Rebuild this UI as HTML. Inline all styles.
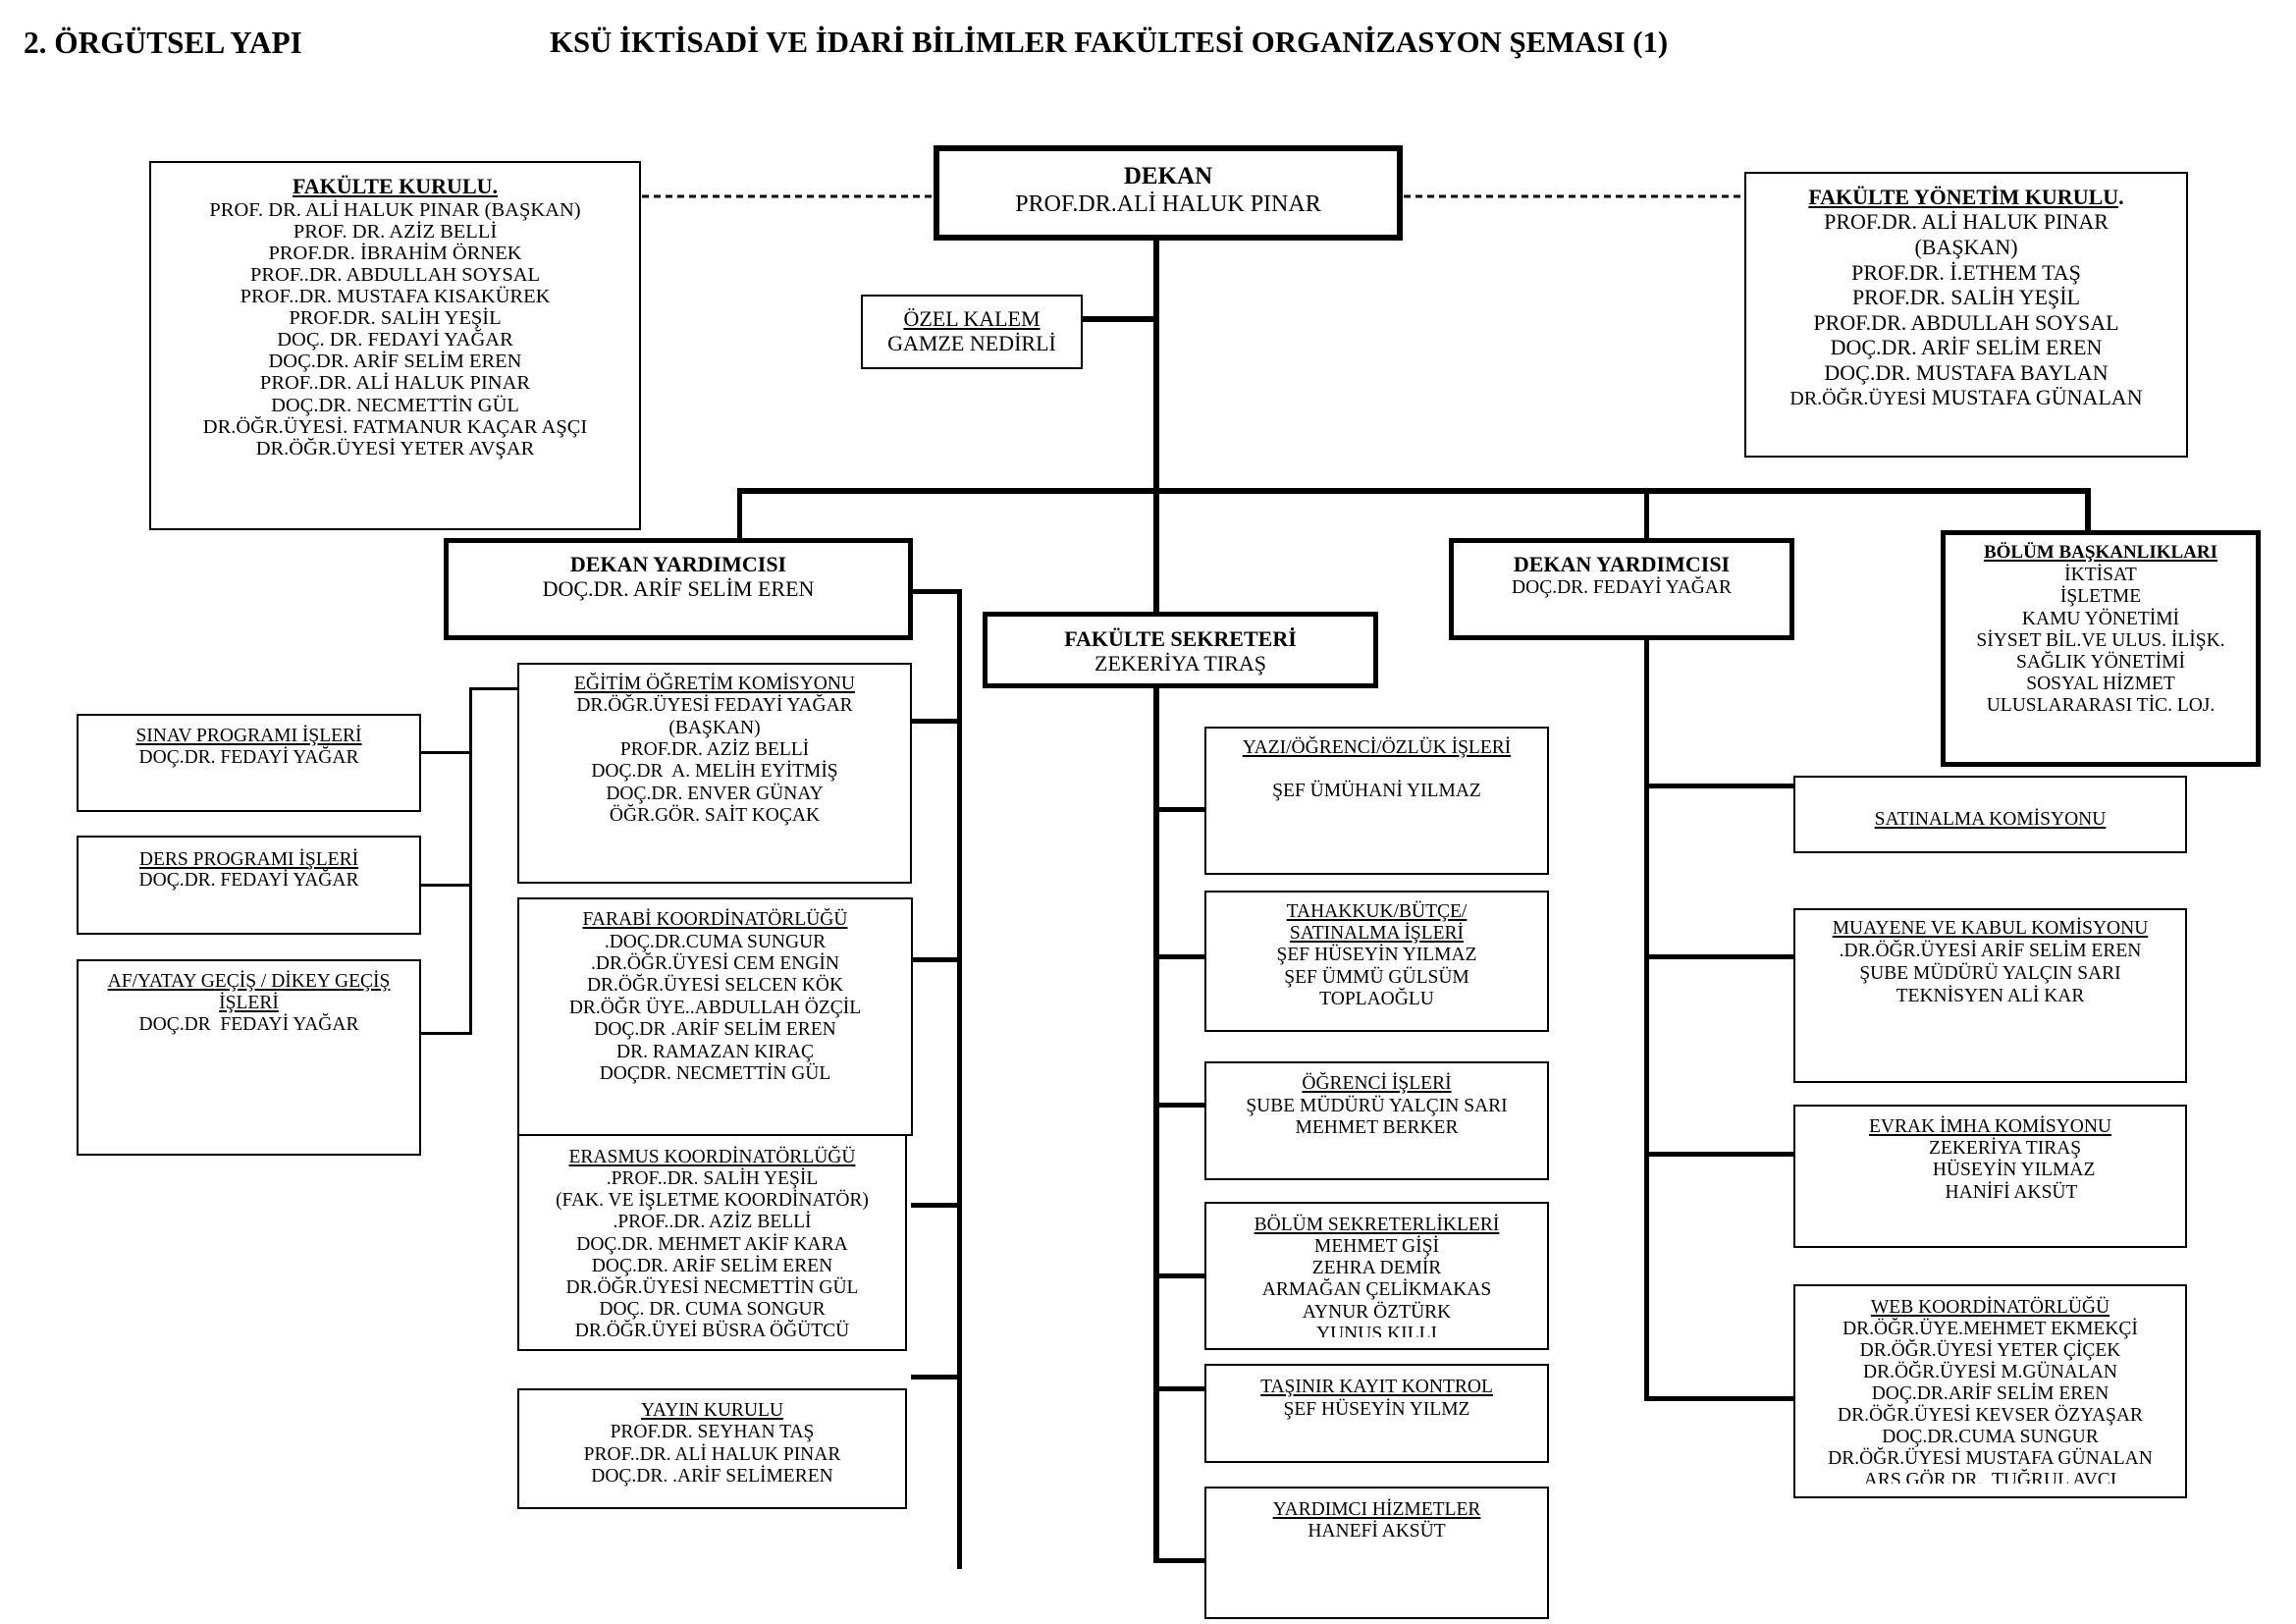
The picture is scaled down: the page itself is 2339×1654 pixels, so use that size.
<!DOCTYPE html>
<html lang="tr">
<head>
<meta charset="utf-8">
<style>
html,body{margin:0;padding:0;background:#fff;}
#p{position:relative;width:2339px;height:1654px;overflow:hidden;background:#fff;font-family:"Liberation Serif","Times New Roman",serif;color:#000;}
.b{position:absolute;box-sizing:border-box;border:2px solid #000;background:#fff;}
.l{position:absolute;background:#000;}
.c{position:absolute;text-align:center;white-space:pre;font-family:"Liberation Serif","Times New Roman",serif;color:#000;}
.k{position:absolute;overflow:hidden;}
u{text-decoration:underline;text-decoration-thickness:1.5px;text-underline-offset:2px;}
</style>
</head>
<body>
<div id="p">

<!-- Titles -->
<div class="c" style="left:24px;top:27.6px;font-size:31.3px;line-height:31.3px;font-weight:bold;text-align:left;">2. ÖRGÜTSEL YAPI</div>
<div class="c" style="left:560px;top:27.8px;font-size:30.8px;line-height:30.8px;font-weight:bold;text-align:left;">KSÜ İKTİSADİ VE İDARİ BİLİMLER FAKÜLTESİ ORGANİZASYON ŞEMASI (1)</div>

<!-- Dashed lines -->
<svg style="position:absolute;left:0;top:0" width="2339" height="260">
<line x1="654" y1="200" x2="951" y2="200" stroke="#000" stroke-width="3" stroke-dasharray="7 5"/>
<line x1="1430" y1="200" x2="1777" y2="200" stroke="#000" stroke-width="3" stroke-dasharray="7 5"/>
</svg>

<!-- Connector lines -->
<div class="l" style="left:1175px;top:245px;width:6px;height:1347px;"></div>
<div class="l" style="left:1103px;top:322px;width:76px;height:6px;"></div>
<div class="l" style="left:751px;top:497px;width:1379px;height:6px;"></div>
<div class="l" style="left:751px;top:497px;width:5px;height:52px;"></div>
<div class="l" style="left:1675px;top:497px;width:5px;height:930px;"></div>
<div class="l" style="left:2124px;top:497px;width:6px;height:44px;"></div>

<!-- center connectors -->
<div class="l" style="left:1175px;top:822px;width:53px;height:5px;"></div>
<div class="l" style="left:1175px;top:972px;width:53px;height:5px;"></div>
<div class="l" style="left:1175px;top:1123px;width:53px;height:5px;"></div>
<div class="l" style="left:1175px;top:1297px;width:53px;height:5px;"></div>
<div class="l" style="left:1175px;top:1412px;width:53px;height:5px;"></div>
<div class="l" style="left:1175px;top:1587px;width:53px;height:5px;"></div>

<!-- right connectors -->
<div class="l" style="left:1675px;top:798px;width:152px;height:5px;"></div>
<div class="l" style="left:1675px;top:972px;width:152px;height:5px;"></div>
<div class="l" style="left:1675px;top:1173px;width:152px;height:5px;"></div>
<div class="l" style="left:1675px;top:1422px;width:152px;height:5px;"></div>

<!-- left vertical + connectors -->
<div class="l" style="left:975px;top:600px;width:5px;height:998px;"></div>
<div class="l" style="left:929px;top:600px;width:51px;height:5px;"></div>
<div class="l" style="left:928px;top:732px;width:50px;height:5px;"></div>
<div class="l" style="left:928px;top:975px;width:50px;height:5px;"></div>
<div class="l" style="left:928px;top:1225px;width:50px;height:5px;"></div>
<div class="l" style="left:928px;top:1400px;width:50px;height:5px;"></div>

<!-- small left vertical + connectors -->
<div class="l" style="left:478px;top:700px;width:3px;height:354px;"></div>
<div class="l" style="left:478px;top:700px;width:50px;height:3px;"></div>
<div class="l" style="left:429px;top:765px;width:50px;height:3px;"></div>
<div class="l" style="left:429px;top:900px;width:50px;height:3px;"></div>
<div class="l" style="left:429px;top:1051px;width:50px;height:3px;"></div>

<!-- Boxes -->
<div class="b" style="left:152px;top:164px;width:501px;height:376px;"></div>
<div class="b" style="left:951px;top:148px;width:478px;height:97px;border-width:6px;"></div>
<div class="b" style="left:877px;top:300px;width:226px;height:76px;"></div>
<div class="b" style="left:1777px;top:175px;width:452px;height:291px;"></div>
<div class="b" style="left:452px;top:548px;width:478px;height:104px;border-width:5px;"></div>
<div class="b" style="left:1476px;top:548px;width:352px;height:104px;border-width:5px;"></div>
<div class="b" style="left:1977px;top:540px;width:326px;height:241px;border-width:5px;"></div>
<div class="b" style="left:1001px;top:623px;width:403px;height:78px;border-width:5px;"></div>

<div class="b" style="left:1227px;top:740px;width:351px;height:151px;"></div>
<div class="b" style="left:1227px;top:907px;width:351px;height:144px;"></div>
<div class="b" style="left:1227px;top:1081px;width:351px;height:121px;"></div>
<div class="b" style="left:1227px;top:1224px;width:351px;height:151px;"></div>
<div class="b" style="left:1227px;top:1389px;width:351px;height:101px;"></div>
<div class="b" style="left:1227px;top:1514px;width:351px;height:135px;"></div>

<div class="b" style="left:1827px;top:790px;width:401px;height:79px;"></div>
<div class="b" style="left:1827px;top:925px;width:401px;height:178px;"></div>
<div class="b" style="left:1827px;top:1125px;width:401px;height:146px;"></div>
<div class="b" style="left:1827px;top:1308px;width:401px;height:218px;"></div>

<div class="b" style="left:527px;top:675px;width:402px;height:225px;"></div>
<div class="b" style="left:527px;top:914px;width:403px;height:243px;"></div>
<div class="b" style="left:527px;top:1155px;width:397px;height:221px;"></div>
<div class="b" style="left:527px;top:1414px;width:397px;height:123px;"></div>

<div class="b" style="left:78px;top:727px;width:351px;height:100px;"></div>
<div class="b" style="left:78px;top:851px;width:351px;height:101px;"></div>
<div class="b" style="left:78px;top:977px;width:351px;height:200px;"></div>

<!-- Fakülte Kurulu -->
<div class="c" style="left:152px;top:179px;width:501px;font-size:22px;line-height:22px;font-weight:bold;"><u>FAKÜLTE KURULU.</u></div>
<div class="c" style="left:152px;top:202.7px;width:501px;font-size:20.5px;line-height:22.1px;">PROF. DR. ALİ HALUK PINAR (BAŞKAN)<br>PROF. DR. AZİZ BELLİ<br>PROF.DR. İBRAHİM ÖRNEK<br>PROF..DR. ABDULLAH SOYSAL<br>PROF..DR. MUSTAFA KISAKÜREK<br>PROF.DR. SALİH YEŞİL<br>DOÇ. DR. FEDAYİ YAĞAR<br>DOÇ.DR. ARİF SELİM EREN<br>PROF..DR. ALİ HALUK PINAR<br>DOÇ.DR. NECMETTİN GÜL<br>DR.ÖĞR.ÜYESİ. FATMANUR KAÇAR AŞÇI<br>DR.ÖĞR.ÜYESİ YETER AVŞAR</div>

<!-- Dekan -->
<div class="c" style="left:951px;top:166.6px;width:478px;font-size:25px;line-height:25px;font-weight:bold;">DEKAN</div>
<div class="c" style="left:951px;top:195.9px;width:478px;font-size:24px;line-height:24px;">PROF.DR.ALİ HALUK PINAR</div>

<!-- Özel Kalem -->
<div class="c" style="left:877px;top:312px;width:226px;font-size:22px;line-height:25px;"><u>ÖZEL KALEM</u><br>GAMZE NEDİRLİ</div>

<!-- Fakülte Yönetim Kurulu -->
<div class="c" style="left:1777px;top:187.9px;width:452px;font-size:22px;line-height:25.55px;"><b><u>FAKÜLTE YÖNETİM KURULU</u>.</b><br>PROF.DR. ALİ HALUK PINAR<br>(BAŞKAN)<br>PROF.DR. İ.ETHEM TAŞ<br>PROF.DR. SALİH YEŞİL<br>PROF.DR. ABDULLAH SOYSAL<br>DOÇ.DR. ARİF SELİM EREN<br>DOÇ.DR. MUSTAFA BAYLAN<br><span style="font-size:20px;">DR.ÖĞR.ÜYESİ</span> MUSTAFA GÜNALAN</div>

<!-- Dekan Yardımcısı left -->
<div class="c" style="left:452px;top:563.3px;width:478px;font-size:22px;line-height:24.6px;"><b>DEKAN YARDIMCISI</b><br>DOÇ.DR. ARİF SELİM EREN</div>

<!-- Dekan Yardımcısı right -->
<div class="c" style="left:1476px;top:564px;width:352px;font-size:22px;line-height:22px;font-weight:bold;">DEKAN YARDIMCISI</div>
<div class="c" style="left:1476px;top:588.8px;width:352px;font-size:19.5px;line-height:20px;">DOÇ.DR. FEDAYİ YAĞAR</div>

<!-- Bölüm Başkanlıkları -->
<div class="c" style="left:1977px;top:553.2px;width:326px;font-size:19px;line-height:20px;font-weight:bold;"><u>BÖLÜM BAŞKANLIKLARI</u></div>
<div class="c" style="left:1977px;top:575.1px;width:326px;font-size:19.5px;line-height:22.2px;">İKTİSAT<br>İŞLETME<br>KAMU YÖNETİMİ<br>SİYSET BİL.VE ULUS. İLİŞK.<br>SAĞLIK YÖNETİMİ<br>SOSYAL HİZMET<br>ULUSLARARASI TİC. LOJ.</div>

<!-- Fakülte Sekreteri -->
<div class="c" style="left:1001px;top:637.5px;width:403px;font-size:22px;line-height:25px;"><b>FAKÜLTE SEKRETERİ</b><br>ZEKERİYA TIRAŞ</div>

<!-- Center column -->
<div class="c" style="left:1227px;top:751.4px;width:351px;font-size:19.5px;line-height:22px;"><u>YAZI/ÖĞRENCİ/ÖZLÜK İŞLERİ</u><br><br>ŞEF ÜMÜHANİ YILMAZ</div>
<div class="c" style="left:1227px;top:917.9px;width:351px;font-size:19.5px;line-height:22.3px;"><u>TAHAKKUK/BÜTÇE/</u><br><u>SATINALMA İŞLERİ</u><br>ŞEF HÜSEYİN YILMAZ<br>ŞEF ÜMMÜ GÜLSÜM<br>TOPLAOĞLU</div>
<div class="c" style="left:1227px;top:1093.2px;width:351px;font-size:19.5px;line-height:22.35px;"><u>ÖĞRENCİ İŞLERİ</u><br>ŞUBE MÜDÜRÜ YALÇIN SARI<br>MEHMET BERKER</div>
<div class="k" style="left:1229px;top:1226px;width:347px;height:136px;">
<div class="c" style="left:-2px;top:10.7px;width:351px;font-size:19.5px;line-height:22.2px;"><u>BÖLÜM SEKRETERLİKLERİ</u><br>MEHMET GİŞİ<br>ZEHRA DEMİR<br>ARMAĞAN ÇELİKMAKAS<br>AYNUR ÖZTÜRK<br>YUNUS KILLI</div>
</div>
<div class="c" style="left:1227px;top:1402.2px;width:351px;font-size:19.5px;line-height:22.4px;"><u>TAŞINIR KAYIT KONTROL</u><br>ŞEF HÜSEYİN YILMZ</div>
<div class="c" style="left:1227px;top:1527.2px;width:351px;font-size:19.5px;line-height:22.3px;"><u>YARDIMCI HİZMETLER</u><br>HANEFİ AKSÜT</div>

<!-- Right column -->
<div class="c" style="left:1827px;top:824.1px;width:401px;font-size:19.5px;line-height:22px;"><u>SATINALMA KOMİSYONU</u></div>
<div class="c" style="left:1827px;top:935.3px;width:401px;font-size:19.5px;line-height:22.8px;"><u>MUAYENE VE KABUL KOMİSYONU</u><br>.DR.ÖĞR.ÜYESİ ARİF SELİM EREN<br>ŞUBE MÜDÜRÜ YALÇIN SARI<br>TEKNİSYEN ALİ KAR</div>
<div class="c" style="left:1827px;top:1137.4px;width:401px;font-size:19.5px;line-height:22px;"><u>EVRAK İMHA KOMİSYONU</u></div>
<div class="c" style="left:1842.6px;top:1159.1px;width:400px;font-size:19.5px;line-height:22px;">ZEKERİYA TIRAŞ</div>
<div class="c" style="left:1851.6px;top:1180.7px;width:400px;font-size:19.5px;line-height:22px;">HÜSEYİN YILMAZ</div>
<div class="c" style="left:1849px;top:1204.1px;width:400px;font-size:19.5px;line-height:22px;">HANİFİ AKSÜT</div>
<div class="k" style="left:1829px;top:1310px;width:397px;height:201px;">
<div class="c" style="left:-2px;top:10.6px;width:401px;font-size:19.5px;line-height:22.1px;"><u>WEB KOORDİNATÖRLÜĞÜ</u><br>DR.ÖĞR.ÜYE.MEHMET EKMEKÇİ<br>DR.ÖĞR.ÜYESİ YETER ÇİÇEK<br>DR.ÖĞR.ÜYESİ M.GÜNALAN<br>DOÇ.DR.ARİF SELİM EREN<br>DR.ÖĞR.ÜYESİ KEVSER ÖZYAŞAR<br>DOÇ.DR.CUMA SUNGUR<br>DR.ÖĞR.ÜYESİ MUSTAFA GÜNALAN<br>ARŞ.GÖR.DR.  TUĞRUL AVCI</div>
</div>

<!-- Left column commissions -->
<div class="c" style="left:527px;top:685.8px;width:402px;font-size:19.5px;line-height:22.4px;"><u>EĞİTİM ÖĞRETİM KOMİSYONU</u><br>DR.ÖĞR.ÜYESİ FEDAYİ YAĞAR<br>(BAŞKAN)<br>PROF.DR. AZİZ BELLİ<br>DOÇ.DR  A. MELİH EYİTMİŞ<br>DOÇ.DR. ENVER GÜNAY<br>ÖĞR.GÖR. SAİT KOÇAK</div>
<div class="c" style="left:527px;top:926.3px;width:403px;font-size:19.5px;line-height:22.37px;"><u>FARABİ KOORDİNATÖRLÜĞÜ</u><br>.DOÇ.DR.CUMA SUNGUR<br>.DR.ÖĞR.ÜYESİ CEM ENGİN<br>DR.ÖĞR.ÜYESİ SELCEN KÖK<br>DR.ÖĞR ÜYE..ABDULLAH ÖZÇİL<br>DOÇ.DR .ARİF SELİM EREN<br>DR. RAMAZAN KIRAÇ<br>DOÇDR. NECMETTİN GÜL</div>
<div class="c" style="left:527px;top:1167.8px;width:397px;font-size:19.5px;line-height:22.2px;"><u>ERASMUS KOORDİNATÖRLÜĞÜ</u><br>.PROF..DR. SALİH YEŞİL<br>(FAK. VE İŞLETME KOORDİNATÖR)<br>.PROF..DR. AZİZ BELLİ<br>DOÇ.DR. MEHMET AKİF KARA<br>DOÇ.DR. ARİF SELİM EREN<br>DR.ÖĞR.ÜYESİ NECMETTİN GÜL<br>DOÇ. DR. CUMA SONGUR<br>DR.ÖĞR.ÜYEİ BÜSRA ÖĞÜTCÜ</div>
<div class="c" style="left:527px;top:1425.8px;width:397px;font-size:19.5px;line-height:22.5px;"><u>YAYIN KURULU</u><br>PROF.DR. SEYHAN TAŞ<br>PROF..DR. ALİ HALUK PINAR<br>DOÇ.DR. .ARİF SELİMEREN</div>

<div class="c" style="left:78px;top:739.2px;width:351px;font-size:19.5px;line-height:21.5px;"><u>SINAV PROGRAMI İŞLERİ</u><br>DOÇ.DR. FEDAYİ YAĞAR</div>
<div class="c" style="left:78px;top:864.7px;width:351px;font-size:19.5px;line-height:21.5px;"><u>DERS PROGRAMI İŞLERİ</u><br>DOÇ.DR. FEDAYİ YAĞAR</div>
<div class="c" style="left:78px;top:989.2px;width:351px;font-size:19.5px;line-height:21.9px;"><u>AF/YATAY GEÇİŞ / DİKEY GEÇİŞ</u><br><u>İŞLERİ</u><br>DOÇ.DR  FEDAYİ YAĞAR</div>

</div>
</body>
</html>
